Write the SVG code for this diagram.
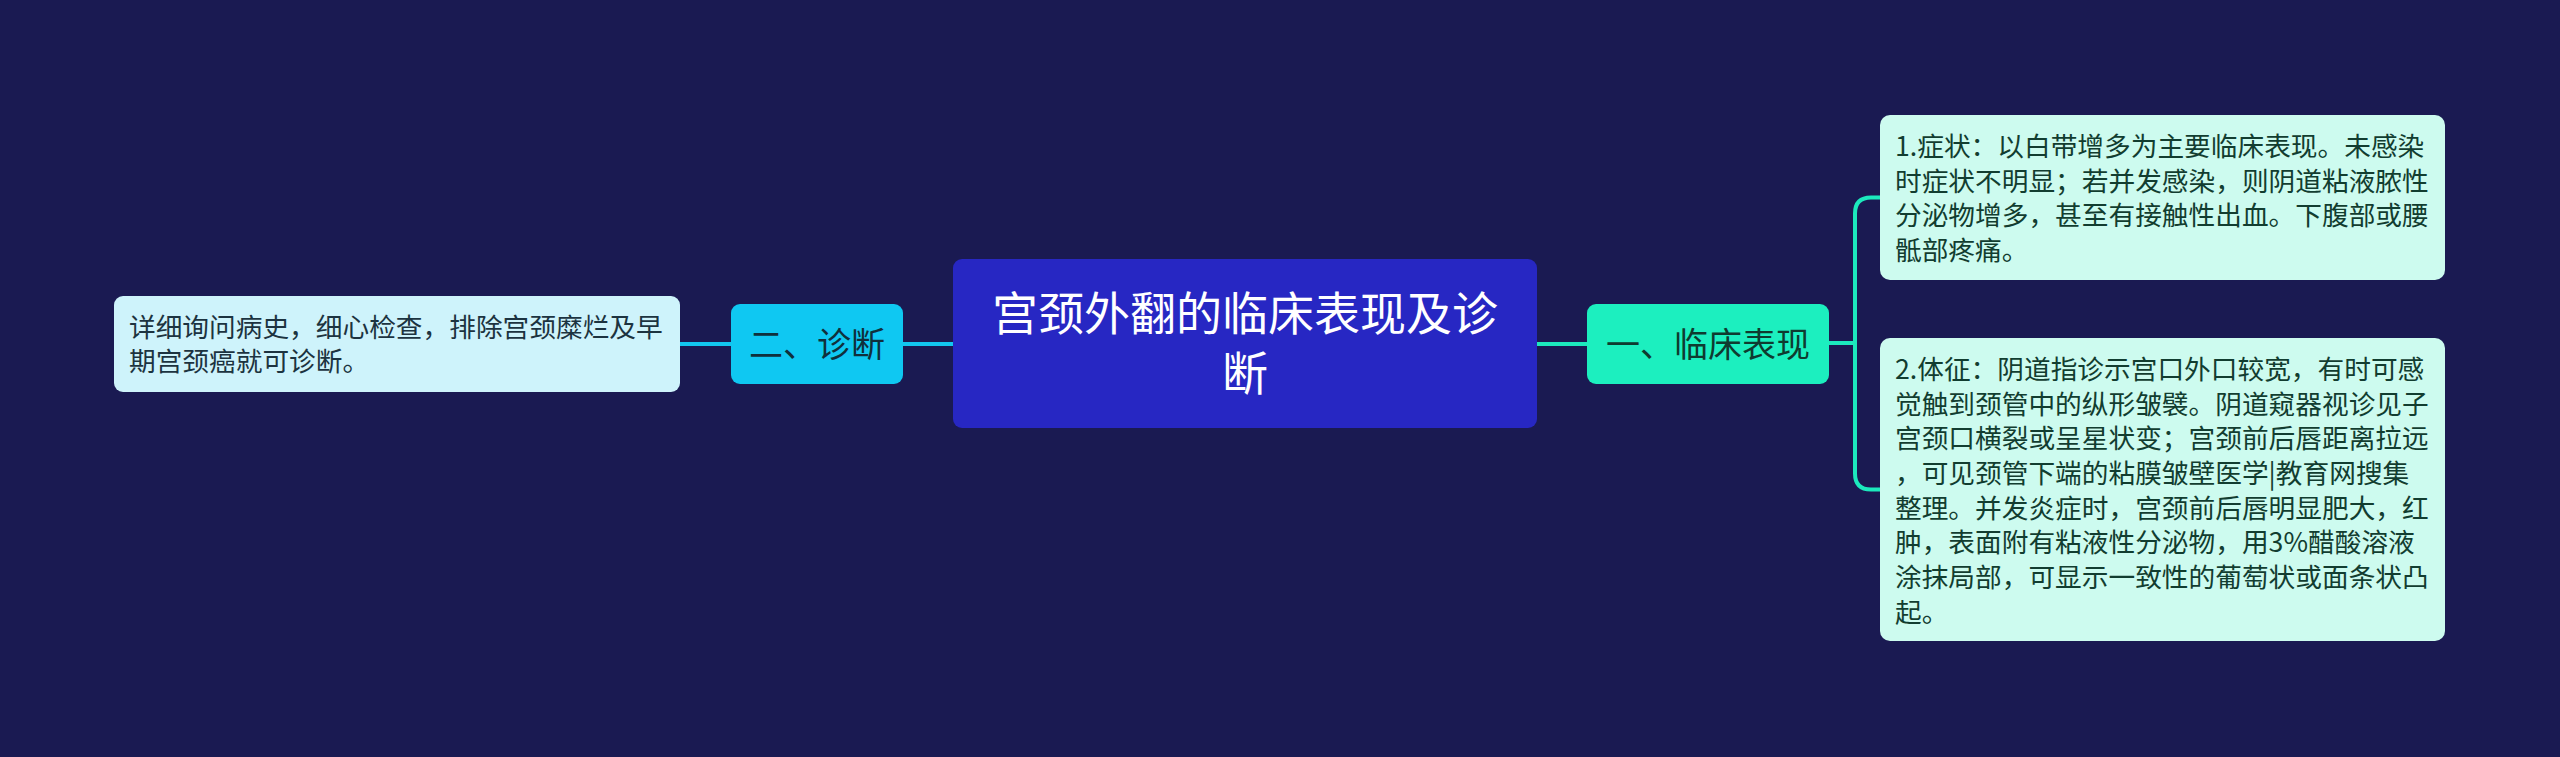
<svg xmlns="http://www.w3.org/2000/svg" width="2560" height="757" viewBox="0 0 2560 757">
<style>
text{font-family:"Noto Sans CJK SC","Noto Sans CJK JP",sans-serif}
.root-t{font-size:46px;fill:#ffffff;text-anchor:middle}
.br-t{font-size:34px;text-anchor:middle}
.lf-t{font-size:26.7px}
.c-cyan{stroke:#12c6ef;stroke-width:4;fill:none}
.c-teal{stroke:#1ce9bd;stroke-width:4;fill:none}
</style>
<rect x="0" y="0" width="2560" height="757" fill="#1a1a52"/>
<g id="connectors">
<path class="c-cyan" d="M680,344 H731"/>
<path class="c-cyan" d="M903,344 H953"/>
<path class="c-teal" d="M1537,344 H1587"/>
<path class="c-teal" d="M1829,343 H1855"/>
<path class="c-teal" d="M1880,197.5 H1871 Q1855,197.5 1855,213.5 V473.5 Q1855,489.5 1871,489.5 H1880"/>
</g>
<g id="root">
<rect x="953" y="259" width="584" height="169" rx="9" fill="#2727c3"/>
<text class="root-t" x="1245" y="330">宫颈外翻的临床表现及诊</text>
<text class="root-t" x="1245" y="390">断</text>
</g>
<g id="branch-diagnosis">
<rect x="731" y="304" width="172" height="80" rx="9" fill="#0fc8f2"/>
<text class="br-t" x="817" y="356.5" fill="#10303c">二、诊断</text>
</g>
<g id="leaf-diagnosis">
<rect x="114" y="296" width="566" height="96" rx="9" fill="#cef3fb"/>
<text class="lf-t" fill="#1c3340"><tspan x="129" y="336.5">详细询问病史，细心检查，排除宫颈糜烂及早</tspan><tspan x="129" y="371.2">期宫颈癌就可诊断。</tspan></text>
</g>
<g id="branch-clinical">
<rect x="1587" y="304" width="242" height="80" rx="9" fill="#1cefbf"/>
<text class="br-t" x="1708" y="356.5" fill="#0f3b30">一、临床表现</text>
</g>
<g id="leaf-symptom">
<rect x="1880" y="115" width="565" height="165" rx="10" fill="#cdfbef"/>
<text class="lf-t" fill="#123d30"><tspan x="1895" y="155.9">1.症状：以白带增多为主要临床表现。未感染</tspan><tspan x="1895" y="190.6">时症状不明显；若并发感染，则阴道粘液脓性</tspan><tspan x="1895" y="225.3">分泌物增多，甚至有接触性出血。下腹部或腰</tspan><tspan x="1895" y="260">骶部疼痛。</tspan></text>
</g>
<g id="leaf-sign">
<rect x="1880" y="338" width="565" height="303" rx="10" fill="#cdfbef"/>
<text class="lf-t" fill="#123d30"><tspan x="1895" y="378.9">2.体征：阴道指诊示宫口外口较宽，有时可感</tspan><tspan x="1895" y="413.6">觉触到颈管中的纵形皱襞。阴道窥器视诊见子</tspan><tspan x="1895" y="448.3">宫颈口横裂或呈星状变；宫颈前后唇距离拉远</tspan><tspan x="1895" y="483">，可见颈管下端的粘膜皱壁医学|教育网搜集</tspan><tspan x="1895" y="517.7">整理。并发炎症时，宫颈前后唇明显肥大，红</tspan><tspan x="1895" y="552.4">肿，表面附有粘液性分泌物，用3%醋酸溶液</tspan><tspan x="1895" y="587.1">涂抹局部，可显示一致性的葡萄状或面条状凸</tspan><tspan x="1895" y="621.8">起。</tspan></text>
</g>
</svg>
